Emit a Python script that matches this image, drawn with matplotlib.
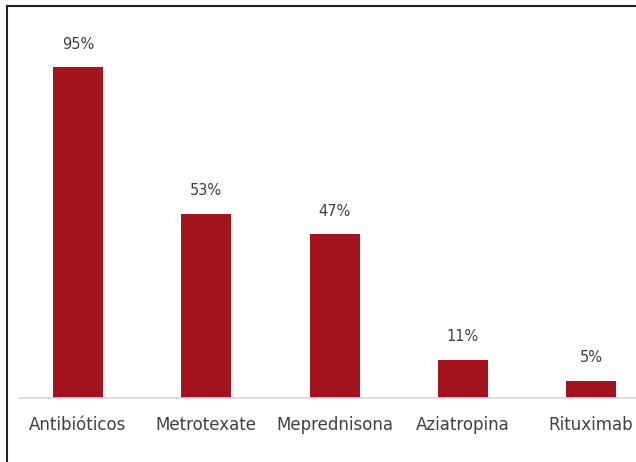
import matplotlib.pyplot as plt
from matplotlib.lines import Line2D

# Datos
categorias = ['Antibióticos', 'Metrotexate', 'Meprednisona', 'Aziatropina', 'Rituximab']
valores = [95, 53, 47, 11, 5]

fig = plt.figure(figsize=(6.36, 4.62), dpi=100)
ax = fig.add_axes([10 / 636, 64 / 462, 626 / 636, 378 / 462])

x = range(len(categorias))
ax.bar(x, valores, width=0.39, color='#A3141F', zorder=2)

for xi, v in zip(x, valores):
    ax.text(xi, v + 4.5, f'{v}%', ha='center', va='bottom',
            fontsize=10.5, color='#404040')

ax.set_xlim(-0.53, 4.35)
ax.set_ylim(0, 108.6)
ax.set_xticks(list(x))
ax.set_xticklabels(categorias, fontsize=12, color='#404040')
ax.tick_params(axis='x', length=0, pad=13)
ax.set_yticks([])
for lado in ['top', 'right', 'left']:
    ax.spines[lado].set_visible(False)
ax.spines['bottom'].set_color('#D9D9D9')
ax.spines['bottom'].set_linewidth(1.2)
ax.spines['bottom'].set_bounds(-0.46, 4.35)

# Marco exterior (izquierda y arriba)
fig.add_artist(Line2D([7 / 636, 7 / 636], [0, 456 / 462], transform=fig.transFigure,
                      color='#202020', linewidth=1.5))
fig.add_artist(Line2D([7 / 636, 1], [456 / 462, 456 / 462], transform=fig.transFigure,
                      color='#202020', linewidth=1.5))

fig.savefig('out.png', dpi=100)
